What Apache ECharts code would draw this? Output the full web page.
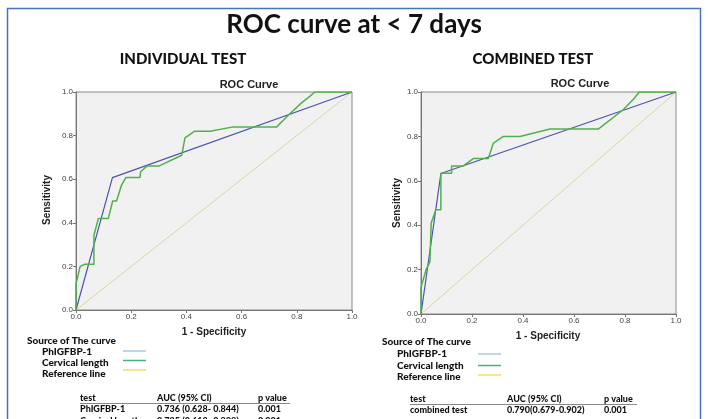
<!DOCTYPE html>
<html><head><meta charset="utf-8">
<script src="https://cdn.jsdelivr.net/npm/echarts@6/dist/echarts.min.js"></script>
<style>html,body{margin:0;padding:0;background:#fff}#c{width:708px;height:419px}</style>
</head><body><div id="c"></div>
<script>
// Individual test
const leftBlue = [[0,0],[0.132,0.607],[1,1]];
const leftGreen = [[0,0],[0,0.12],[0.015,0.2],[0.033,0.21],[0.065,0.21],[0.065,0.343],[0.081,0.42],[0.117,0.42],[0.133,0.5],[0.147,0.5],[0.165,0.573],[0.181,0.608],[0.232,0.608],[0.234,0.634],[0.257,0.66],[0.3,0.66],[0.383,0.71],[0.395,0.79],[0.43,0.82],[0.486,0.82],[0.57,0.84],[0.727,0.84],[0.775,0.9],[0.817,0.95],[0.847,0.98],[0.865,1],[1,1]];
// Combined test
const rightBlue = [[0,0],[0.078,0.633],[1,1]];
const rightGreen = [[0,0],[0,0.12],[0.02,0.2],[0.035,0.235],[0.04,0.41],[0.058,0.47],[0.078,0.47],[0.078,0.634],[0.12,0.634],[0.12,0.667],[0.166,0.667],[0.205,0.7],[0.264,0.7],[0.284,0.77],[0.323,0.8],[0.388,0.8],[0.506,0.833],[0.695,0.833],[0.793,0.92],[0.833,0.967],[0.856,1],[1,1]];
const refLine = [[0,0],[1,1]];
const legendNames = ['PhIGFBP-1','Cervical length','Reference line'];
const leftTable = [['test','AUC (95% CI)','p value'],['PhIGFBP-1','0.736 (0.628- 0.844)','0.001'],['Cervical length','0.725 (0.612- 0.838)','0.001']];
const rightTable = [['test','AUC (95% CI)','p value'],['combined test','0.790(0.679-0.902)','0.001']];

const C_BLUE='#4b52b0', C_GREEN='#52b04c', C_REF='#d4d6a2';
const LEG_COL=['#a9c9e2','#3fb57a','#f1dc6a'];
const F='Lato, "Open Sans", sans-serif';
const A='Arial, "Liberation Sans", sans-serif';

function axes(gi){
  return {type:'value',min:0,max:1,interval:0.2,gridIndex:gi,
    axisLine:{show:true,lineStyle:{color:'#777',width:1}},
    axisTick:{show:true,length:3,lineStyle:{color:'#777'}},
    splitLine:{show:false},
    axisLabel:{fontSize:8,color:'#444',fontFamily:A,formatter:v=>v.toFixed(1),margin:3}};
}
const chart = echarts.init(document.getElementById('c'));
const g = [];
function txt(x,y,t,o){g.push({type:'text',x:x,y:y,style:Object.assign({text:t,fill:'#111',font:'bold 11px '+F,textAlign:'left',textVerticalAlign:'middle'},o||{})});}
function line(x1,y1,x2,y2,c,w){g.push({type:'line',shape:{x1:x1,y1:y1,x2:x2,y2:y2},style:{stroke:c,lineWidth:w||1.5}});}

g.push({type:'rect',shape:{x:7.5,y:8.5,width:693,height:420},style:{fill:'none',stroke:'#4a72c4',lineWidth:1.5}});
txt(354,25,'ROC curve at < 7 days',{font:'bold 26px '+F,textAlign:'center'});
txt(183,59,'INDIVIDUAL TEST',{font:'900 15px '+F,textAlign:'center'});
txt(533,59,'COMBINED TEST',{font:'900 15px '+F,textAlign:'center'});
txt(249,85,'ROC Curve',{font:'bold 11px '+A,textAlign:'center',fill:'#222'});
txt(580,84,'ROC Curve',{font:'bold 11px '+A,textAlign:'center',fill:'#222'});
txt(214,332,'1 - Specificity',{font:'bold 10px '+A,textAlign:'center',fill:'#222'});
txt(548,336,'1 - Specificity',{font:'bold 10px '+A,textAlign:'center',fill:'#222'});
g.push({type:'text',x:47,y:200,rotation:Math.PI/2,style:{text:'Sensitivity',fill:'#222',font:'bold 10px '+A,textAlign:'center',textVerticalAlign:'middle'}});
g.push({type:'text',x:397,y:203,rotation:Math.PI/2,style:{text:'Sensitivity',fill:'#222',font:'bold 10px '+A,textAlign:'center',textVerticalAlign:'middle'}});

function legend(x0,y0,ix,iy,lx1,lx2,ly){
  txt(x0,y0,'Source of The curve',{font:'900 10px '+F});
  legendNames.forEach((n,i)=>{txt(ix,iy[i],n,{font:'900 10px '+F}); line(lx1,ly[i],lx2,ly[i],LEG_COL[i],1.5);});
}
legend(27,341,42,[352,363,374],123,146,[351,360.5,370]);
legend(382,342,397,[353.5,365.5,377],478,501,[354,365.5,375]);

function table(rows,xs,y0,dy,lx1,lx2,ly){
  rows.forEach((r,ri)=>{r.forEach((c,ci)=>txt(xs[ci],y0+ri*dy,c,{font:'900 9px '+F}));});
  line(lx1,ly,lx2,ly,'#888',1);
}
table(leftTable,[80,157,258],398,11.5,80,290,403.5);
table(rightTable,[410,507,604],399,11,410,637,404.5);

chart.setOption({
  animation:false,
  backgroundColor:'#fff',
  grid:[
    {left:76,top:92,width:276,height:218,show:true,backgroundColor:'#f1f1f1',borderColor:'#888',borderWidth:1},
    {left:421,top:92,width:255,height:222,show:true,backgroundColor:'#f1f1f1',borderColor:'#888',borderWidth:1}
  ],
  xAxis:[axes(0),axes(1)],
  yAxis:[axes(0),axes(1)],
  series:[
    {type:'line',xAxisIndex:0,yAxisIndex:0,data:refLine,symbol:'none',lineStyle:{color:C_REF,width:1}},
    {type:'line',xAxisIndex:0,yAxisIndex:0,data:leftBlue,symbol:'none',lineStyle:{color:C_BLUE,width:1.2}},
    {type:'line',xAxisIndex:0,yAxisIndex:0,data:leftGreen,symbol:'none',lineStyle:{color:C_GREEN,width:1.5}},
    {type:'line',xAxisIndex:1,yAxisIndex:1,data:refLine,symbol:'none',lineStyle:{color:C_REF,width:1}},
    {type:'line',xAxisIndex:1,yAxisIndex:1,data:rightBlue,symbol:'none',lineStyle:{color:C_BLUE,width:1.2}},
    {type:'line',xAxisIndex:1,yAxisIndex:1,data:rightGreen,symbol:'none',lineStyle:{color:C_GREEN,width:1.5}}
  ],
  graphic:g
});
</script></body></html>
